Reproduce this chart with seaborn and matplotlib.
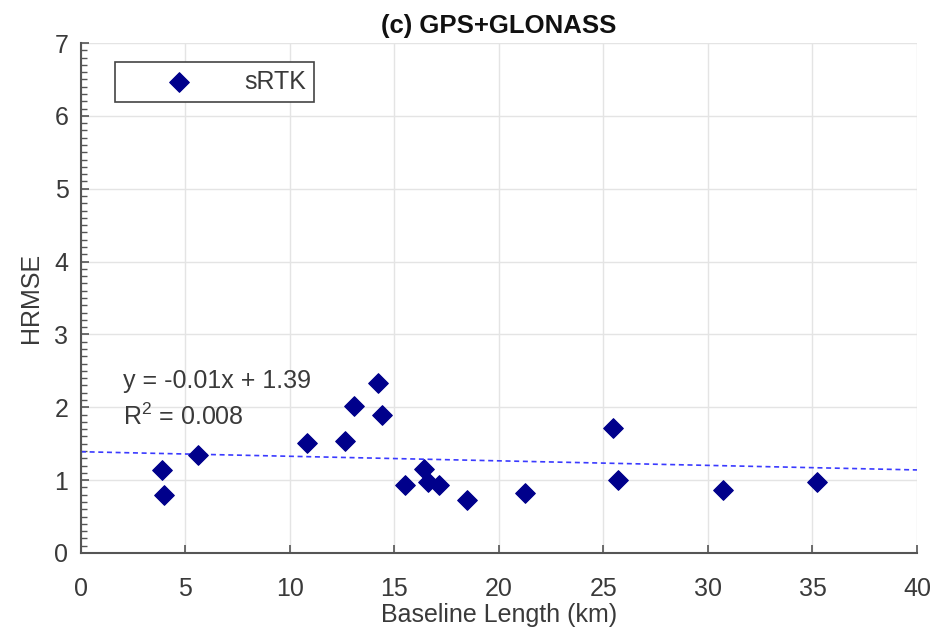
import numpy as np
import pandas as pd
import matplotlib
matplotlib.use("Agg")
import matplotlib.pyplot as plt
import seaborn as sns
from matplotlib.ticker import MultipleLocator

# Horizontal RMSE of single-baseline RTK vs. baseline length
baseline_km = [3.86, 3.99, 5.61, 10.83, 12.63, 13.06, 14.20, 14.39, 15.50,
               16.43, 16.59, 17.14, 18.48, 21.24, 25.44, 25.68, 30.73, 35.23]
hrmse = [1.14, 0.79, 1.35, 1.51, 1.54, 2.02, 2.33, 1.89, 0.94,
         1.15, 0.98, 0.93, 0.73, 0.82, 1.71, 1.00, 0.86, 0.97]

# Linear trend
fit_slope = -0.00625
fit_intercept = 1.39
fit_r2 = 0.008

x_ticks = [0, 5, 10, 15, 20, 25, 30, 35, 40]
y_ticks = [0, 1, 2, 3, 4, 5, 6, 7]

df = pd.DataFrame({"Baseline": baseline_km, "HRMSE": hrmse})

sns.set_theme(style="white")
plt.rcParams["font.family"] = ["Liberation Sans", "DejaVu Sans"]
plt.rcParams["mathtext.fontset"] = "custom"
plt.rcParams["mathtext.rm"] = "Liberation Sans"
plt.rcParams["mathtext.it"] = "Liberation Sans:italic"
plt.rcParams["mathtext.bf"] = "Liberation Sans:bold"

FS = 18
TXT = "#3a3a3a"
NAVY = "#00008B"

fig = plt.figure(figsize=(9.36, 6.41), dpi=100)
ax = fig.add_axes([0.0865, 0.1373, 0.8932, 0.7956])

ax.grid(True, color="#e4e4e4", linewidth=1.0)
ax.set_axisbelow(True)

# trend line across the whole x range
xs = np.array([x_ticks[0], x_ticks[-1]], dtype=float)
ax.plot(xs, fit_intercept + fit_slope * xs, linestyle=(0, (3, 2.2)),
        color="#3a3aff", linewidth=1.2, zorder=2)

sns.scatterplot(data=df, x="Baseline", y="HRMSE", marker="D", s=100,
                color=NAVY, edgecolor=NAVY, linewidth=0.8, label="sRTK",
                ax=ax, zorder=3)

ax.set_xlim(x_ticks[0], x_ticks[-1])
ax.set_ylim(y_ticks[0], y_ticks[-1])
ax.set_xticks(x_ticks)
ax.set_yticks(y_ticks)
ax.yaxis.set_minor_locator(MultipleLocator(0.1))

for side in ("top", "right"):
    ax.spines[side].set_visible(False)
for side in ("left", "bottom"):
    ax.spines[side].set_color("#555555")
    ax.spines[side].set_linewidth(1.5)

ax.tick_params(which="major", direction="in", length=6, width=1.2,
               colors="#555555", labelcolor=TXT, labelsize=FS)
ax.tick_params(which="minor", direction="in", length=4, width=1.0,
               colors="#555555")
ax.tick_params(axis="x", which="major", pad=17, bottom=True)
ax.tick_params(axis="y", which="major", pad=9, left=True)
ax.tick_params(axis="y", which="minor", left=True)

ax.set_title("(c) GPS+GLONASS", fontsize=FS + 0.5, fontweight="bold",
             color="#111111", pad=7)
ax.set_xlabel("Baseline Length (km)", fontsize=FS, color=TXT, labelpad=2)
ax.set_ylabel("HRMSE", fontsize=FS, color=TXT, labelpad=8)

ax.text(2.0, 2.26, f"y = {fit_slope:.2f}x + {fit_intercept:.2f}",
        fontsize=FS, color=TXT, va="baseline", ha="left")
ax.text(2.0, 1.76, f"R$^{{\\mathrm{{2}}}}$ = {fit_r2:.3f}",
        fontsize=FS, color=TXT, va="baseline", ha="left")

leg = ax.legend(loc="upper left", bbox_to_anchor=(0.0407, 0.963),
                borderaxespad=0, handlelength=4.5, handletextpad=0.35,
                borderpad=0.32, frameon=True, fancybox=False,
                fontsize=FS, framealpha=1)
leg.get_frame().set_edgecolor("#444444")
leg.get_frame().set_linewidth(1.2)
for t in leg.get_texts():
    t.set_color(TXT)

fig.savefig("out.png", dpi=100)
